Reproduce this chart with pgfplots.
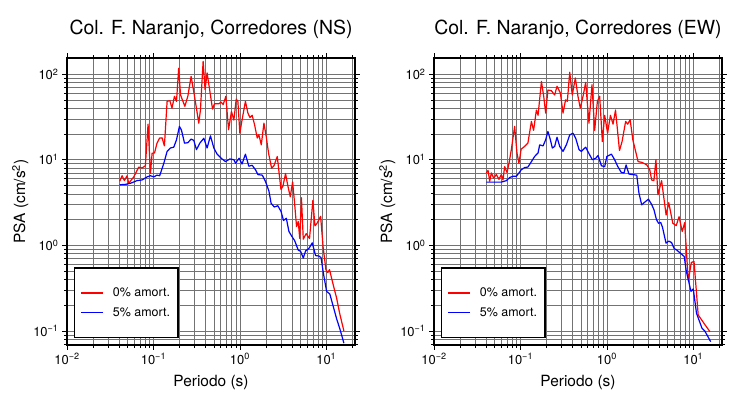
\documentclass[border=0pt]{standalone}
\usepackage{fontspec}
\setmainfont{TeX Gyre Heros}
\usepackage{pgfplots}
\pgfplotsset{compat=1.18}

\pgfplotsset{
  every axis/.append style={
    scale only axis, width=288bp, height=287bp,
    xmin=0.01, xmax=21.5, ymin=0.0686, ymax=154,
    xtick={0.01,0.1,1,10},
    xticklabels={10\textsuperscript{−2},10\textsuperscript{−1},10\textsuperscript{0},10\textsuperscript{1}},
    ytick={0.1,1,10,100},
    yticklabels={10\textsuperscript{−1},10\textsuperscript{0},10\textsuperscript{1},10\textsuperscript{2}},
    minor xtick={0.02,0.03,0.04,0.05,0.06,0.07,0.08,0.09,0.2,0.3,0.4,0.5,0.6,0.7,0.8,0.9,2,3,4,5,6,7,8,9,20},
    minor ytick={0.07,0.08,0.09,0.2,0.3,0.4,0.5,0.6,0.7,0.8,0.9,2,3,4,5,6,7,8,9,20,30,40,50,60,70,80,90},
    grid=both,
    major grid style={black!55, line width=0.5bp},
    minor grid style={black!55, line width=0.5bp},
    tick align=outside,
    major tick length=5bp, minor tick length=3bp,
    tick style={black, line width=0.6bp},
    axis line style={line width=1.6bp},
    tick label style={font=\fontsize{13}{15}\selectfont},
    label style={font=\fontsize{15.5}{18}\selectfont},
    title style={font=\fontsize{19.5}{22}\selectfont, at={(axis description cs:0.5,1.0627)}, anchor=base},
    xlabel style={at={(axis description cs:0.5,-0.146)}, anchor=base},
    ylabel style={at={(axis description cs:-0.1458,0.5)}, anchor=base},
    legend cell align=left,
    legend style={at={(axis description cs:0.0233,0.0233)}, anchor=south west,
      draw=black, line width=1.3bp, fill=white,
      font=\fontsize{12.5}{15}\selectfont,
      inner xsep=6bp, inner ysep=18bp, row sep=5bp, column sep=7bp},
  },
  redleg/.style={legend image code/.code={\draw[draw=red, line width=1.6bp] (0bp,0bp) -- (22bp,0bp);}},
  blueleg/.style={legend image code/.code={\draw[draw=blue, line width=1.6bp] (0bp,0bp) -- (22bp,0bp);}},
}

\begin{document}
\begin{tikzpicture}
\path[use as bounding box] (0bp,0bp) rectangle (730bp,400bp);

\begin{loglogaxis}[at={(67bp,55bp)}, anchor=south west,
  title={Col. F. Naranjo, Corredores (NS)},
  xlabel={Periodo (s)}, ylabel={PSA (cm/s\textsuperscript{2})}]
\addplot[red, line width=1.2bp, line join=round, forget plot] coordinates {
(0.0407,5.6) (0.0434,6.5) (0.0461,5.7) (0.0496,6.5) (0.0518,5.3) (0.0592,6.3) (0.0676,8.2) (0.0739,8.0) (0.0807,8.5) (0.0867,26) (0.0923,6.9) (0.0966,11.9) (0.103,12) (0.110,15.6) (0.118,17.9) (0.126,18) (0.134,14.5) (0.144,48) (0.155,49) (0.164,40) (0.175,55) (0.185,48) (0.196,117) (0.206,57) (0.231,42) (0.250,55) (0.273,94) (0.299,55) (0.335,26.7) (0.350,38) (0.376,141) (0.396,66) (0.418,103) (0.450,63) (0.483,39) (0.509,45) (0.571,45) (0.608,47) (0.641,44) (0.689,55) (0.740,22.4) (0.800,36.6) (0.853,29) (0.908,51) (0.949,48) (1.0,20.4) (1.06,29) (1.16,48) (1.24,35) (1.31,31) (1.39,33) (1.48,25.6) (1.59,17.9) (1.66,19.6) (1.77,14.9) (1.90,26.7) (2.02,18.6) (2.15,11.9) (2.33,7.95) (2.48,8.5) (2.71,10.9) (2.99,4.5) (3.15,4.9) (3.38,6.9) (3.60,4.9) (3.83,3.7) (4.08,5.5) (4.30,3.1) (4.53,1.66) (4.74,1.9) (4.93,1.2) (5.16,3.6) (5.42,1.18) (5.85,1.37) (6.4,1.2) (7.0,3.35) (7.39,1.69) (7.8,1.8) (8.6,2.18) (9.2,0.95) (9.9,0.52) (10.4,0.48) (10.9,0.52) (12.0,0.35) (13.2,0.24) (14.3,0.16) (16.0,0.1)
};
\addplot[blue, line width=1.2bp, line join=round, forget plot] coordinates {
(0.0407,5.1) (0.0474,5.15) (0.0542,5.3) (0.0647,5.7) (0.0739,5.8) (0.0845,6.3) (0.0923,6.5) (0.101,6.3) (0.110,6.6) (0.118,6.5) (0.132,9.1) (0.144,12.5) (0.157,13.7) (0.172,14.0) (0.185,17.1) (0.200,24.5) (0.211,22.2) (0.229,15.6) (0.250,15.8) (0.273,17.4) (0.293,16.8) (0.315,13.1) (0.344,15.6) (0.383,17.8) (0.418,13.7) (0.457,19.0) (0.500,13.7) (0.546,11.6) (0.608,10.4) (0.682,9.5) (0.766,10.2) (0.853,10.0) (0.891,9.1) (0.981,10.4) (1.06,8.9) (1.16,11.6) (1.27,8.4) (1.39,8.6) (1.52,7.6) (1.62,6.7) (1.82,6.6) (1.99,5.5) (2.17,4.3) (2.3,3.1) (2.5,2.8) (2.75,2.9) (3.0,2.48) (3.2,1.95) (3.45,2.07) (3.7,1.45) (4.04,1.25) (4.3,1.14) (4.74,0.88) (5.05,0.85) (5.42,0.71) (5.76,0.86) (6.30,0.92) (6.89,1.07) (7.52,0.76) (8.22,0.75) (8.7,0.72) (9.3,0.46) (10.1,0.29) (11.0,0.27) (12.1,0.19) (13.2,0.138) (14.4,0.105) (16.0,0.072)
};
\addlegendimage{redleg}
\addlegendentry{0\% amort.}
\addlegendimage{blueleg}
\addlegendentry{5\% amort.}
\end{loglogaxis}

\begin{loglogaxis}[at={(434bp,55bp)}, anchor=south west,
  title={Col. F. Naranjo, Corredores (EW)},
  xlabel={Periodo (s)}, ylabel={PSA (cm/s\textsuperscript{2})}]
\addplot[red, line width=1.2bp, line join=round, forget plot] coordinates {
(0.0403,7.0) (0.0422,7.5) (0.0441,5.6) (0.0461,7.0) (0.0490,6.1) (0.0526,6.7) (0.0565,5.9) (0.0601,6.7) (0.0628,5.8) (0.0657,8.3) (0.070,7.1) (0.0738,9.1) (0.0785,13.1) (0.0857,24.5) (0.0912,12.0) (0.0961,9.1) (0.102,13.3) (0.112,14.3) (0.122,15.6) (0.134,28) (0.142,22) (0.153,38) (0.160,33) (0.175,82) (0.186,55) (0.196,35) (0.208,65) (0.228,64) (0.249,57) (0.265,72) (0.290,60) (0.311,35) (0.333,50) (0.349,48) (0.372,105) (0.398,57) (0.432,90) (0.463,55) (0.493,40) (0.530,55) (0.569,80) (0.621,26.7) (0.673,75) (0.723,22) (0.777,48) (0.826,55) (0.887,16.3) (0.944,33) (1.02,20.4) (1.10,33) (1.18,26) (1.26,38) (1.40,12.8) (1.50,16.3) (1.65,28) (1.74,26) (1.86,29.3) (2.0,17) (2.3,9.5) (2.55,9.3) (2.9,8.7) (3.14,7.6) (3.3,5.8) (3.5,5.7) (3.7,10) (3.9,3.9) (4.3,5.7) (4.85,2.26) (5.2,3.15) (5.8,1.81) (6.35,1.7) (6.85,2.16) (7.45,1.45) (7.95,1.84) (8.75,0.39) (9.5,0.63) (10.2,0.65) (11.4,0.154) (13.0,0.127) (15.6,0.098)
};
\addplot[blue, line width=1.2bp, line join=round, forget plot] coordinates {
(0.0403,5.47) (0.0601,5.47) (0.0689,5.7) (0.0752,6.2) (0.0820,6.4) (0.0896,6.4) (0.0961,7.0) (0.102,7.6) (0.112,8.1) (0.122,8.2) (0.134,9.5) (0.146,10.9) (0.160,12.0) (0.167,14.9) (0.183,14.5) (0.196,17.1) (0.208,21.4) (0.222,17.1) (0.234,13.7) (0.249,14.3) (0.265,18.3) (0.285,14.3) (0.311,12.5) (0.340,14.9) (0.372,19.5) (0.406,20.4) (0.436,17.8) (0.477,13.1) (0.506,12.5) (0.569,14.0) (0.632,11.4) (0.679,10) (0.744,10.4) (0.791,11.2) (0.866,8.5) (0.944,8.3) (1.00,10.9) (1.13,11.6) (1.23,10.0) (1.34,8.3) (1.47,7.1) (1.58,7.0) (1.67,8.7) (1.80,6.8) (2.0,6.7) (2.22,6.6) (2.35,4.1) (2.53,2.97) (2.75,3.2) (3.03,3.46) (3.3,3.0) (3.51,2.6) (3.75,2.0) (3.96,1.81) (4.2,1.85) (4.4,1.63) (4.84,1.06) (5.2,1.12) (5.6,1.08) (6.0,0.92) (6.44,0.88) (7.0,0.82) (7.86,0.74) (8.3,0.5) (8.79,0.39) (9.4,0.29) (10.0,0.31) (10.9,0.161) (12.6,0.108) (13.6,0.1) (15.9,0.075)
};
\addlegendimage{redleg}
\addlegendentry{0\% amort.}
\addlegendimage{blueleg}
\addlegendentry{5\% amort.}
\end{loglogaxis}
\end{tikzpicture}
\end{document}
